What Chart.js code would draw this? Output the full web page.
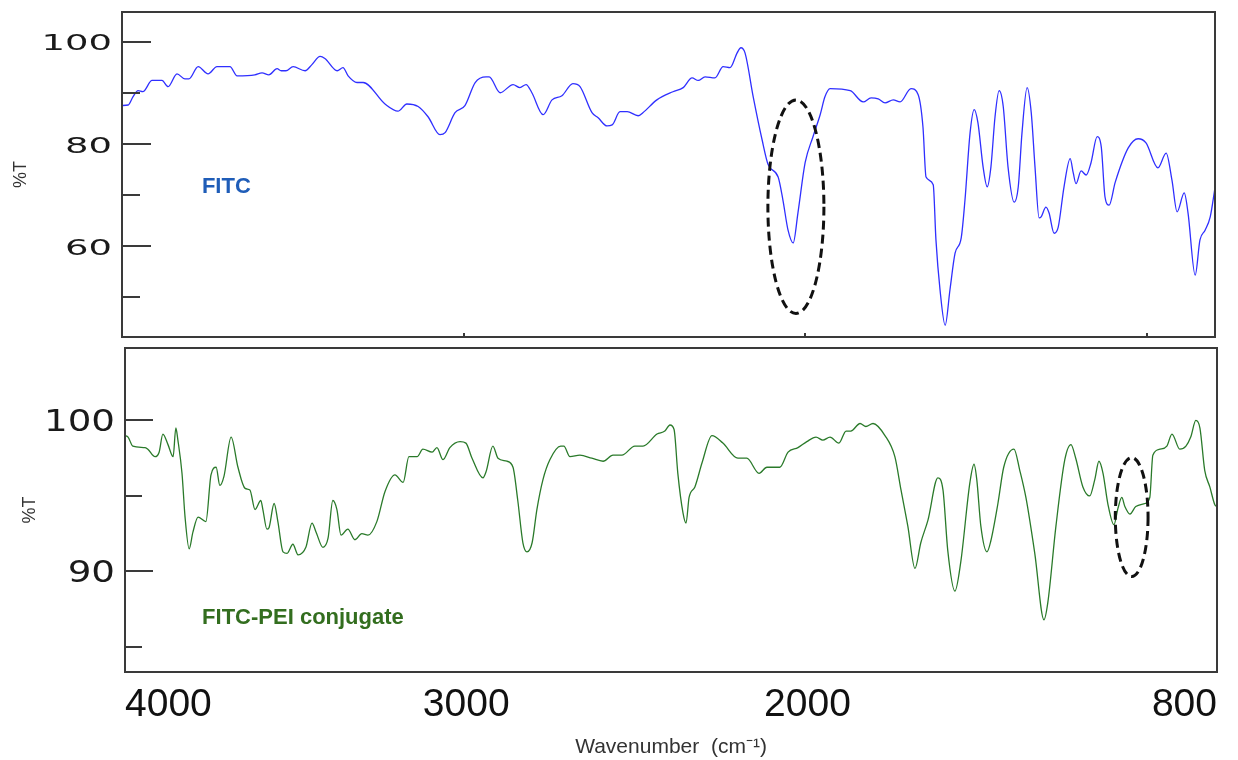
<!doctype html>
<html lang="en">
  <head>
    <meta charset="utf-8">
    <title>FTIR spectra: FITC and FITC-PEI conjugate</title>
    <script src="https://cdn.jsdelivr.net/npm/chart.js@4.4.1/dist/chart.umd.min.js"></script>
    <style>
      body { margin: 0; background: #fff; }
      canvas { position: absolute; left: 0; }
      #fitc-chart { top: 0; }
      #conj-chart { top: 345px; }
    </style>
  </head>
  <body>
    <canvas id="fitc-chart" width="1238" height="345"></canvas>
    <canvas id="conj-chart" width="1238" height="415"></canvas>

    <script>
      // FITC spectrum (wavenumber in cm-1, transmittance in %)
      const fitcWavenumber = [
        4000, 3982, 3968, 3953, 3939, 3912, 3883, 3865, 3839, 3816,
        3804, 3777, 3748, 3722, 3684, 3663, 3611, 3590, 3570, 3546,
        3534, 3520, 3499, 3464, 3444, 3420, 3406, 3370, 3353, 3338,
        3312, 3294, 3230, 3192, 3166, 3133, 3104, 3069, 3054, 3025,
        2996, 2966, 2934, 2925, 2893, 2855, 2835, 2817, 2800, 2767,
        2741, 2712, 2680, 2659, 2624, 2606, 2580, 2565, 2542, 2521,
        2489, 2475, 2434, 2387, 2357, 2331, 2313, 2293, 2264, 2240,
        2220, 2199, 2188, 2176, 2152, 2126, 2108, 2079, 2065, 2050,
        2035, 2021, 2000, 1977, 1956, 1942, 1927, 1868, 1830, 1807,
        1786, 1766, 1742, 1722, 1690, 1669, 1655, 1646, 1625, 1617,
        1605, 1590, 1576, 1561, 1543, 1532, 1517, 1505, 1494, 1479,
        1467, 1456, 1444, 1432, 1420, 1406, 1388, 1376, 1365, 1350,
        1338, 1327, 1315, 1309, 1295, 1286, 1271, 1259, 1242, 1224,
        1215, 1207, 1192, 1177, 1163, 1145, 1133, 1122, 1110, 1092,
        1054, 1025, 1002, 967, 943, 926, 911, 890, 879, 858,
        844, 829, 814, 800
      ]
      const fitcT = [
        87.5, 87.6, 89.2, 90.4, 90.2, 92.4, 92.4, 91.2, 93.7, 92.7,
        92.7, 95.1, 93.7, 95.1, 95.1, 93.3, 93.5, 93.9, 93.5, 94.7,
        94.3, 94.3, 95.1, 94.3, 95.5, 97.1, 96.7, 94.3, 94.9, 93.3,
        92.0, 92.0, 87.8, 86.4, 87.8, 87.3, 85.3, 81.8, 82.2, 86.1,
        87.5, 92.0, 93.1, 93.1, 90.0, 91.6, 91.0, 91.6, 90.0, 85.7,
        88.6, 89.4, 91.8, 91.2, 86.1, 85.1, 83.5, 83.7, 86.3, 86.3,
        85.5, 86.1, 88.6, 90.2, 91.0, 92.9, 92.4, 93.1, 92.9, 95.1,
        94.9, 97.8, 98.8, 97.8, 89.2, 80.8, 75.9, 73.5, 69.0, 63.1,
        60.6, 66.5, 76.3, 81.4, 85.7, 89.2, 90.8, 90.4, 88.2, 89.0,
        88.8, 88.0, 88.6, 88.2, 90.8, 89.6, 83.3, 73.5, 72.0, 61.2,
        51.4, 44.5, 51.4, 58.6, 61.6, 69.0, 82.2, 86.7, 84.1, 75.5,
        71.6, 75.5, 85.3, 90.4, 87.3, 75.5, 68.6, 71.6, 82.2, 91.0,
        86.1, 75.5, 65.5, 65.7, 67.6, 66.5, 62.5, 63.7, 71.6, 77.1,
        74.3, 72.2, 74.7, 73.9, 76.3, 81.4, 79.4, 69.6, 68.0, 72.5,
        79.2, 81.0, 80.2, 75.3, 78.2, 72.9, 66.7, 70.4, 66.5, 54.3,
        61.2, 63.1, 65.7, 71.4
      ]

      // FITC-PEI conjugate spectrum
      const conjWavenumber = [
        4000, 3991, 3977, 3941, 3933, 3912, 3900, 3889, 3874, 3859,
        3851, 3845, 3833, 3824, 3812, 3801, 3786, 3763, 3748, 3733,
        3722, 3710, 3689, 3669, 3648, 3634, 3619, 3602, 3596, 3584,
        3578, 3563, 3552, 3537, 3525, 3508, 3493, 3470, 3452, 3440,
        3420, 3405, 3391, 3379, 3367, 3347, 3326, 3306, 3288, 3262,
        3238, 3209, 3185, 3168, 3144, 3127, 3100, 3086, 3068, 3048,
        3018, 3001, 2983, 2951, 2942, 2922, 2907, 2881, 2863, 2849,
        2834, 2822, 2807, 2793, 2775, 2755, 2723, 2714, 2696, 2667,
        2632, 2599, 2570, 2544, 2506, 2482, 2441, 2418, 2403, 2391,
        2380, 2365, 2356, 2347, 2330, 2309, 2280, 2248, 2204, 2178,
        2142, 2119, 2081, 2057, 2028, 2002, 1975, 1955, 1934, 1908,
        1887, 1873, 1846, 1829, 1808, 1773, 1744, 1726, 1706, 1685,
        1668, 1647, 1618, 1603, 1589, 1568, 1551, 1524, 1512, 1504,
        1492, 1474, 1463, 1442, 1425, 1395, 1378, 1360, 1334, 1307,
        1296, 1272, 1246, 1228, 1214, 1193, 1173, 1158, 1146, 1134,
        1120, 1102, 1090, 1079, 1070, 1055, 1038, 1011, 997, 988,
        967, 947, 932, 909, 891, 877, 862, 850, 836, 821,
        806, 800
      ]
      const conjT = [
        99.0, 98.9, 98.3, 98.2, 98.1, 97.6, 97.9, 99.1, 98.4, 97.6,
        99.5, 98.7, 96.5, 93.6, 91.5, 92.6, 93.6, 93.3, 96.4, 96.9,
        95.7, 96.3, 98.9, 96.9, 95.5, 95.4, 94.1, 94.7, 94.1, 92.8,
        92.9, 94.5, 93.3, 91.3, 91.2, 91.8, 91.1, 91.6, 93.2, 92.6,
        91.6, 92.2, 94.7, 94.1, 92.4, 92.8, 92.1, 92.5, 92.4, 93.3,
        95.3, 96.4, 95.9, 97.6, 97.6, 98.1, 97.9, 98.2, 97.4, 98.2,
        98.6, 98.5, 97.5, 96.2, 96.6, 98.3, 97.5, 97.3, 96.9, 94.7,
        91.9, 91.3, 91.9, 94.1, 96.1, 97.4, 98.3, 98.3, 97.6, 97.7,
        97.5, 97.3, 97.7, 97.7, 98.3, 98.3, 99.1, 99.3, 99.7, 99.4,
        96.5, 93.9, 93.2, 94.9, 95.6, 97.2, 99.0, 98.5, 97.5, 97.5,
        96.5, 96.9, 96.9, 97.9, 98.2, 98.6, 98.9, 98.7, 98.9, 98.5,
        99.3, 99.3, 99.8, 99.6, 99.8, 99.0, 97.6, 95.4, 93.0, 90.2,
        91.9, 93.4, 96.2, 95.4, 91.4, 88.7, 90.6, 95.9, 97.1, 96.1,
        93.0, 91.3, 92.0, 94.5, 96.9, 98.1, 96.7, 94.9, 91.2, 86.8,
        87.9, 93.0, 97.4, 98.4, 97.5, 95.6, 95.0, 96.1, 97.3, 96.5,
        94.5, 93.1, 94.2, 94.9, 94.3, 93.8, 94.3, 94.5, 94.9, 97.7,
        98.1, 98.3, 99.1, 98.1, 98.3, 98.9, 100.0, 99.5, 96.7, 95.6,
        94.4, 94.3
      ]

      // axis ticks (x labels ascending so the end labels sit inside the frame)
      const xTickLabels = [800, 2000, 3000, 4000]
      const fitcXTicks = [3000, 2000, 1000]
      const fitcYTicks = [50, 60, 70, 80, 90, 100]
      const fitcYLabels = [60, 80, 100]
      const conjYTicks = [85, 90, 95, 100]
      const conjYLabels = [90, 100]

      const FONT = '"Liberation Sans", Arial, sans-serif'
      Chart.defaults.font.family = FONT

      function points(xs, ys) {
        return xs.map((x, i) => ({ x: x, y: ys[i] }))
      }

      // frame, inward ticks, wide tick labels, dashed ring and sample name
      const panelDecor = {
        id: 'panelDecor',
        afterDraw(chart, args, opts) {
          const ctx = chart.ctx
          const area = chart.chartArea
          const xs = chart.scales.x
          const ys = chart.scales.y
          ctx.save()

          ctx.strokeStyle = '#3a3a3a'
          ctx.lineWidth = 2
          ctx.beginPath()
          opts.yTicks.forEach(v => {
            const py = Math.round(ys.getPixelForValue(v))
            const len = opts.yLabels.includes(v) ? opts.majorLen : opts.minorLen
            ctx.moveTo(area.left, py)
            ctx.lineTo(area.left + len, py)
          })
          opts.xTicks.forEach(v => {
            const px = Math.round(xs.getPixelForValue(v))
            ctx.moveTo(px, area.bottom)
            ctx.lineTo(px, area.bottom - 4)
          })
          ctx.stroke()
          ctx.strokeRect(area.left, area.top, area.right - area.left, area.bottom - area.top)

          ctx.fillStyle = '#1a1a1a'
          ctx.font = opts.labelFont
          ctx.textAlign = 'right'
          ctx.textBaseline = 'middle'
          opts.yLabels.forEach(v => {
            ctx.save()
            ctx.translate(area.left - 10, ys.getPixelForValue(v) + opts.labelShift)
            ctx.scale(opts.labelStretch, 1)
            ctx.fillText(String(v), 0, 0)
            ctx.restore()
          })

          const r = opts.ring
          const cx = xs.getPixelForValue(r.x)
          const cy = ys.getPixelForValue(r.y)
          const rx = Math.abs(xs.getPixelForValue(r.x - r.dx) - cx)
          const ry = Math.abs(ys.getPixelForValue(r.y + r.dy) - cy)
          ctx.setLineDash([9, 5])
          ctx.lineWidth = 3
          ctx.strokeStyle = '#111'
          ctx.beginPath()
          ctx.ellipse(cx, cy, rx, ry, 0, 0, Math.PI * 2)
          ctx.stroke()
          ctx.setLineDash([])

          ctx.font = 'bold 22px ' + FONT
          ctx.fillStyle = opts.name.color
          ctx.textAlign = 'left'
          ctx.fillText(opts.name.text, xs.getPixelForValue(opts.name.x), ys.getPixelForValue(opts.name.y))

          ctx.restore()
        }
      }

      // top panel: FITC
      new Chart(document.getElementById('fitc-chart'), {
        type: 'line',
        data: {
          datasets: [{
            label: 'FITC',
            data: points(fitcWavenumber, fitcT),
            borderColor: '#2f2fff',
            borderWidth: 1.3,
            pointRadius: 0,
            cubicInterpolationMode: 'monotone'
          }]
        },
        options: {
          responsive: false,
          animation: false,
          layout: { padding: { top: 12, right: 23, bottom: 8, left: 0 } },
          plugins: {
            legend: { display: false },
            tooltip: { enabled: false },
            panelDecor: {
              yTicks: fitcYTicks,
              yLabels: fitcYLabels,
              xTicks: fitcXTicks,
              majorLen: 29,
              minorLen: 18,
              labelFont: '22px "DejaVu Sans"',
              labelStretch: 1.68,
              labelShift: 3,
              ring: { x: 2027, y: 67.7, dx: 82, dy: 20.9 },
              name: { text: 'FITC', x: 3766, y: 71.6, color: '#1f5db8' }
            }
          },
          scales: {
            x: { type: 'linear', reverse: true, min: 800, max: 4000, display: false },
            y: {
              min: 42.2,
              max: 105.8,
              afterFit: s => { s.width = 122 },
              grid: { display: false },
              border: { display: false },
              ticks: { display: false },
              title: { display: true, text: '%T', color: '#333', font: { size: 18 }, padding: { top: 10 } }
            }
          }
        },
        plugins: [panelDecor]
      })

      // bottom panel: FITC-PEI conjugate
      new Chart(document.getElementById('conj-chart'), {
        type: 'line',
        data: {
          datasets: [{
            label: 'FITC-PEI conjugate',
            data: points(conjWavenumber, conjT),
            borderColor: '#2a7a2a',
            borderWidth: 1.3,
            pointRadius: 0,
            cubicInterpolationMode: 'monotone'
          }]
        },
        options: {
          responsive: false,
          animation: false,
          layout: { padding: { top: 3, right: 21, bottom: 0, left: 0 } },
          plugins: {
            legend: { display: false },
            tooltip: { enabled: false },
            panelDecor: {
              yTicks: conjYTicks,
              yLabels: conjYLabels,
              xTicks: [],
              majorLen: 28,
              minorLen: 17,
              labelFont: '30px "DejaVu Sans"',
              labelStretch: 1.24,
              labelShift: 3,
              ring: { x: 1050, y: 93.6, dx: 48, dy: 3.94 },
              name: { text: 'FITC-PEI conjugate', x: 3774, y: 86.9, color: '#336e1f' }
            }
          },
          scales: {
            x: {
              type: 'linear',
              reverse: true,
              min: 800,
              max: 4000,
              afterFit: s => { s.height = 88 },
              afterBuildTicks: s => { s.ticks = xTickLabels.map(v => ({ value: v })) },
              grid: { display: false, drawTicks: false },
              border: { display: false },
              ticks: {
                color: '#111',
                font: { size: 39 },
                padding: 10,
                align: 'inner',
                maxRotation: 0,
                autoSkip: false,
                callback: v => String(v)
              },
              title: {
                display: true,
                text: 'Wavenumber  (cm\u207B\u00B9)',
                color: '#333',
                font: { size: 21 },
                padding: { top: 0, bottom: 0 }
              }
            },
            y: {
              min: 83.34,
              max: 104.8,
              afterFit: s => { s.width = 125 },
              grid: { display: false },
              border: { display: false },
              ticks: { display: false },
              title: { display: true, text: '%T', color: '#333', font: { size: 18 }, padding: { top: 19 } }
            }
          }
        },
        plugins: [panelDecor]
      })
    </script>
  </body>
</html>
